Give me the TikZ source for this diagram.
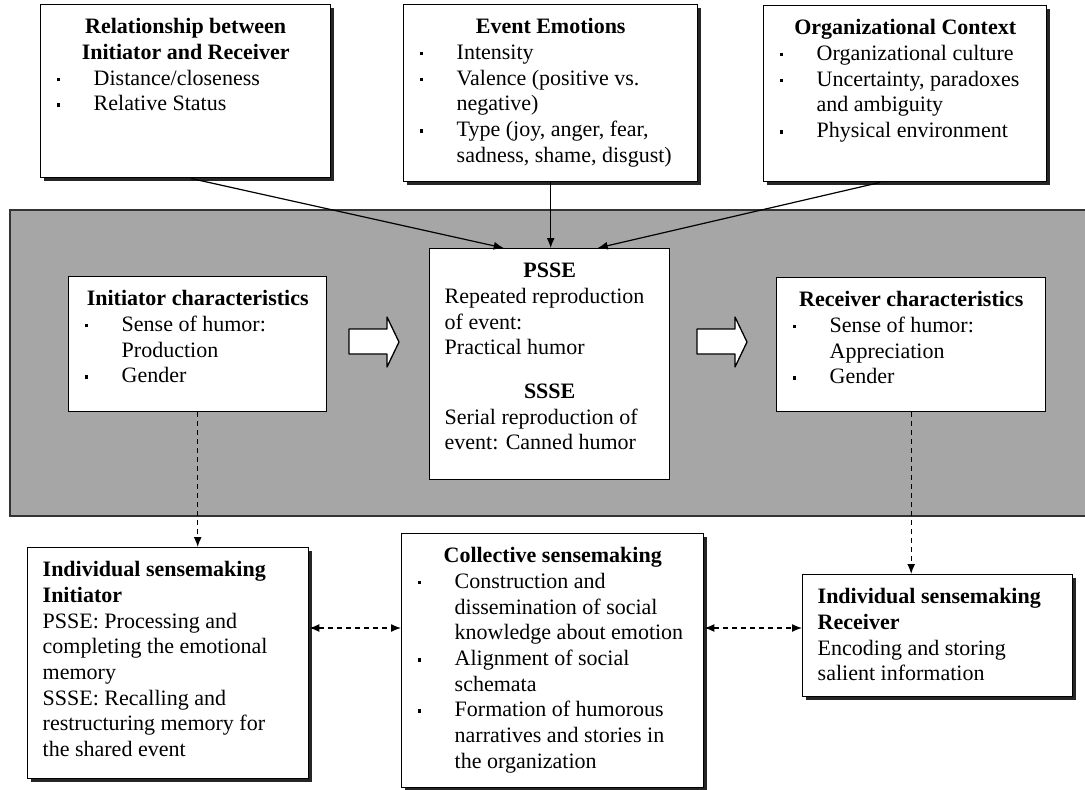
\documentclass[tikz,border=0pt]{standalone}
\usepackage{fontspec}
\setmainfont{Liberation Serif}
\usetikzlibrary{arrows.meta,shadows}

% bullet item with hanging indent
\newcommand{\itm}[1]{\par\hangindent=38pt\hangafter=1\noindent
  \makebox[38pt][l]{\hspace{1pt}\rule[4pt]{3.5pt}{3.5pt}}#1\par}
% box body: width, height, text
\newcommand{\boxbody}[3]{\begin{minipage}[t][#2][t]{#1}\raggedright
  \rule{0pt}{29pt}#3\end{minipage}}

\begin{document}
\begin{tikzpicture}[x=1pt,y=-1pt,
  every node/.style={font=\fontsize{22}{25.7}\selectfont},
  frame/.style={draw, fill=white, line width=1.4pt, inner xsep=15pt, inner ysep=0pt, anchor=north west},
  shadowed/.style={frame, drop shadow={shadow xshift=3.5pt, shadow yshift=-3.5pt, fill=black!85, opacity=1}},
  feed/.style={line width=1.2pt, -{Latex[length=10pt,width=8pt]}},
  dashdown/.style={line width=1.3pt, dash pattern=on 5pt off 4pt, -{Latex[length=10pt,width=8pt]}},
  dashlink/.style={line width=1.3pt, dash pattern=on 5pt off 4pt, {Latex[length=10pt,width=8pt]}-{Latex[length=10pt,width=8pt]}},
  blockarrow/.style={draw, fill=white, line width=1.3pt, line join=round}]
\useasboundingbox (0,0) rectangle (1085,790);

% shaded band
\draw[fill=black!35, draw=black!80, line width=1.2pt] (10,210) rectangle (1092,516);

% top row
\node[shadowed] (relbox) at (40,4) {\boxbody{260pt}{173pt}{%
  {\centering\bfseries Relationship between\\Initiator and Receiver\par}
  \itm{Distance/closeness}
  \itm{Relative Status}}};
\node[shadowed] (emobox) at (403,4) {\boxbody{264pt}{177pt}{%
  {\centering\bfseries Event Emotions\par}
  \itm{Intensity}
  \itm{Valence (positive vs.\newline negative)}
  \itm{Type (joy, anger, fear,\newline sadness, shame, disgust)}}};
\node[shadowed] (orgbox) at (763,5) {\boxbody{253pt}{176pt}{%
  {\centering\bfseries Organizational Context\par}
  \itm{Organizational culture}
  \itm{Uncertainty, paradoxes\newline and ambiguity}
  \itm{Physical environment}}};

% middle row
\node[frame] (initbox) at (68,276) {\boxbody{228pt}{135pt}{%
  {\centering\bfseries Initiator characteristics\par}
  \itm{Sense of humor:\newline Production}
  \itm{Gender}}};
\node[frame] (ssebox) at (429,248) {\boxbody{210pt}{231pt}{%
  {\centering\bfseries PSSE\par}
  Repeated reproduction\newline of event:\newline Practical humor\par
  \vspace{18pt}
  {\centering\bfseries SSSE\par}
  Serial reproduction of\newline event: Canned humor}};
\node[frame] (recbox) at (776,277) {\boxbody{239pt}{134pt}{%
  {\centering\bfseries Receiver characteristics\par}
  \itm{Sense of humor:\newline Appreciation}
  \itm{Gender}}};

\foreach \x in {349,697}
  \draw[blockarrow] (\x,329) -- ++(38,0) -- ++(0,-12) -- ++(12,25) -- ++(-12,25) -- ++(0,-13) -- ++(-38,0) -- cycle;

% bottom row
\node[shadowed] (indinit) at (27,547) {\boxbody{251pt}{231pt}{%
  {\bfseries Individual sensemaking\\Initiator\par}
  PSSE: Processing and\newline completing the emotional\newline memory\newline
  SSSE: Recalling and\newline restructuring memory for\newline the shared event}};
\node[shadowed] (collect) at (401,533) {\boxbody{272pt}{254pt}{%
  {\centering\bfseries Collective sensemaking\par}
  \itm{Construction and\newline dissemination of social\newline knowledge about emotion}
  \itm{Alignment of social\newline schemata}
  \itm{Formation of humorous\newline narratives and stories in\newline the organization}}};
\node[shadowed] (indrec) at (802,574) {\boxbody{240pt}{122pt}{%
  {\bfseries Individual sensemaking\\Receiver\par}
  Encoding and storing\newline salient information}};

% connectors
\draw[feed] ([xshift=5pt]relbox.south) -- ([xshift=-46pt]ssebox.north);
\draw[feed] (emobox.south) -- (emobox.south |- ssebox.north);
\draw[feed] ([xshift=-25pt]orgbox.south) -- ([xshift=48pt]ssebox.north);

\draw[dashdown] (initbox.south) -- (initbox.south |- indinit.north);
\draw[dashdown] (recbox.south) -- (recbox.south |- indrec.north);

\coordinate (mid) at (0,628);
\draw[dashlink] (indinit.east |- mid) -- (collect.west |- mid);
\draw[dashlink] (collect.east |- mid) -- (indrec.west |- mid);
\end{tikzpicture}
\end{document}
